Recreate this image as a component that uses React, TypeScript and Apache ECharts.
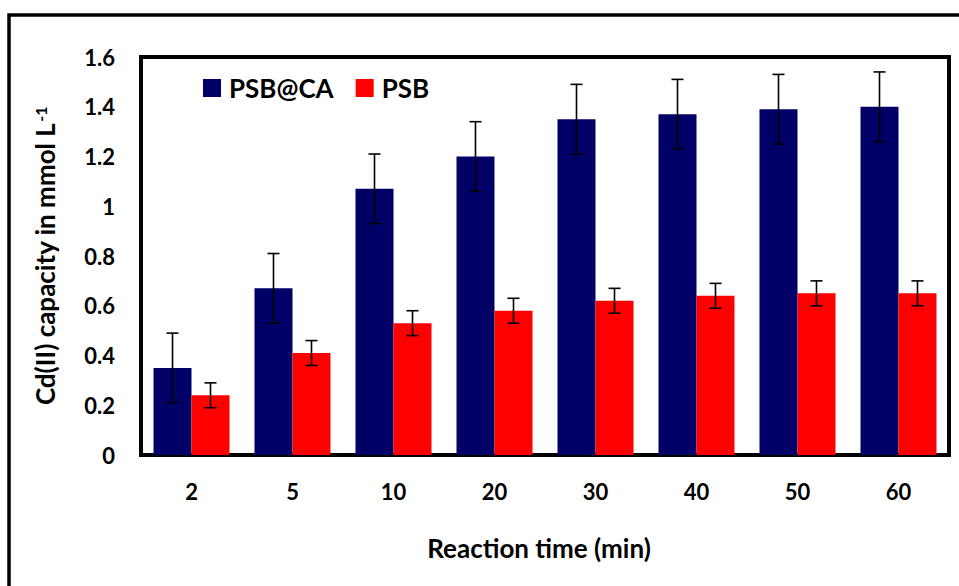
import React, { useEffect, useRef } from "react";
import * as echarts from "echarts";

const categories = ["2", "5", "10", "20", "30", "40", "50", "60"];
const psbCa = [0.35, 0.67, 1.07, 1.2, 1.35, 1.37, 1.39, 1.4];
const psbCaErr = [0.14, 0.14, 0.14, 0.14, 0.14, 0.14, 0.14, 0.14];
const psb = [0.24, 0.41, 0.53, 0.58, 0.62, 0.64, 0.65, 0.65];
const psbErr = [0.05, 0.05, 0.05, 0.05, 0.05, 0.05, 0.05, 0.05];

const FONT = "Lato";
const BAR_W = 38;

function errSeries(vals: number[], errs: number[], offset: number) {
  return {
    type: "custom",
    z: 10,
    silent: true,
    data: vals.map((v, i) => [i, v, errs[i]]),
    encode: { x: 0, y: 1 },
    renderItem: (params: any, api: any) => {
      const i = api.value(0);
      const v = api.value(1);
      const e = api.value(2);
      const top = api.coord([i, v + e]);
      const bot = api.coord([i, v - e]);
      const x = top[0] + offset;
      const cap = 6;
      const style = { stroke: "#000", lineWidth: 1.6 };
      return {
        type: "group",
        children: [
          { type: "line", shape: { x1: x, y1: top[1], x2: x, y2: bot[1] }, style },
          { type: "line", shape: { x1: x - cap, y1: top[1], x2: x + cap, y2: top[1] }, style },
          { type: "line", shape: { x1: x - cap, y1: bot[1], x2: x + cap, y2: bot[1] }, style },
        ],
      };
    },
  };
}

export default function App() {
  const ref = useRef<HTMLDivElement>(null);
  useEffect(() => {
    document.body.style.margin = "0";
    const chart = echarts.init(ref.current!, null, { renderer: "svg" });
    chart.setOption({
      animation: false,
      backgroundColor: "#fff",
      textStyle: { fontFamily: FONT },
      grid: {
        left: 141,
        top: 57,
        width: 808,
        height: 398,
        show: true,
        borderColor: "#000",
        borderWidth: 4,
        containLabel: false,
      },
      legend: {
        left: 198,
        top: 70,
        itemWidth: 18,
        itemHeight: 18,
        itemGap: 22,
        icon: "rect",
        data: ["PSB@CA", "PSB"],
        textStyle: { fontFamily: FONT, fontWeight: "bold", fontSize: 26, color: "#000", padding: [0, 0, 0, 3] },
      },
      xAxis: {
        type: "category",
        data: categories,
        axisLine: { show: false },
        axisTick: { show: false },
        axisLabel: { fontFamily: FONT, fontWeight: "bold", fontSize: 22, color: "#000", margin: 25 },
        name: "Reaction time (min)",
        nameLocation: "middle",
        nameGap: 80,
        nameTextStyle: { fontFamily: FONT, fontWeight: "bold", fontSize: 26, color: "#000", padding: [0, 12, 0, 0] },
      },
      yAxis: {
        type: "value",
        min: 0,
        max: 1.6,
        interval: 0.2,
        splitLine: { show: false },
        axisLine: { show: false },
        axisTick: { show: false },
        axisLabel: { fontFamily: FONT, fontWeight: "bold", fontSize: 22, color: "#000", margin: 26 },
        name: "{a|Cd(II) capacity in mmol L}{s|-1}",
        nameLocation: "middle",
        nameGap: 83,
        nameTextStyle: {
          rich: {
            a: { fontFamily: FONT, fontWeight: "bold", fontSize: 26, color: "#000", verticalAlign: "bottom" },
            s: { fontFamily: FONT, fontWeight: "bold", fontSize: 16, color: "#000", verticalAlign: "top", padding: [0, 0, 9, 1] },
          },
        },
      },
      graphic: [
        {
          type: "rect",
          shape: { x: 9, y: 15, width: 1000, height: 700 },
          style: { fill: "none", stroke: "#000", lineWidth: 3.5 },
          z: -1,
          silent: true,
        },
      ],
      series: [
        {
          name: "PSB@CA",
          type: "bar",
          data: psbCa,
          barWidth: BAR_W,
          barGap: "0%",
          itemStyle: { color: "#000066" },
        },
        {
          name: "PSB",
          type: "bar",
          data: psb,
          barWidth: BAR_W,
          barGap: "0%",
          itemStyle: { color: "#FF0000" },
        },
        errSeries(psbCa, psbCaErr, -BAR_W / 2),
        errSeries(psb, psbErr, BAR_W / 2),
      ],
    });
    return () => chart.dispose();
  }, []);
  return <div ref={ref} style={{ width: 959, height: 586 }} />;
}
